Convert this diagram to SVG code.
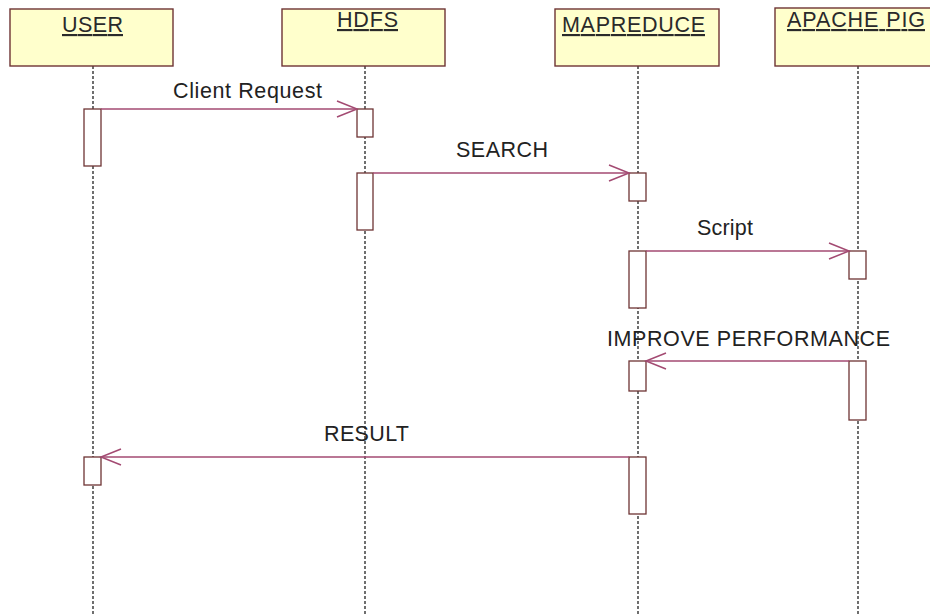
<svg xmlns="http://www.w3.org/2000/svg" width="930" height="614" viewBox="0 0 930 614">
  <style>
    .obj { fill: #ffffcc; stroke: #6e3434; stroke-width: 1.4; }
    .title { font-family: "Liberation Sans", Arial, sans-serif; font-size: 21.5px; fill: #2a2a2a; text-decoration: underline; }
    .life { stroke: #222; stroke-width: 1.3; stroke-dasharray: 3 2; fill: none; }
    .act { fill: #ffffff; stroke: #6e3434; stroke-width: 1.3; }
    .msg { stroke: #a34a72; stroke-width: 1.4; fill: none; }
    .head { stroke: #a34a72; stroke-width: 1.5; fill: none; }
    .label { font-family: "Liberation Sans", Arial, sans-serif; font-size: 21.5px; fill: #222; }
  </style>
  <rect width="930" height="614" fill="#ffffff"/>

  <!-- lifelines (drawn first so activation bars sit on top) -->
  <g id="lifelines">
    <line class="life" x1="93" y1="66" x2="93" y2="614"/>
    <line class="life" x1="365" y1="66" x2="365" y2="614"/>
    <line class="life" x1="638" y1="66" x2="638" y2="614"/>
    <line class="life" x1="858" y1="66" x2="858" y2="614"/>
  </g>

  <g id="user">
    <rect class="obj" x="10" y="9" width="163" height="57"/>
    <text class="title" x="62" y="32" textLength="61" lengthAdjust="spacing">USER</text>
    <rect class="act" x="84" y="109" width="17" height="57"/>
    <rect class="act" x="84" y="457" width="17" height="28"/>
  </g>

  <g id="hdfs">
    <rect class="obj" x="282" y="9" width="163" height="57"/>
    <text class="title" x="337" y="27" textLength="61" lengthAdjust="spacing">HDFS</text>
    <rect class="act" x="357" y="109" width="16" height="28"/>
    <rect class="act" x="357" y="173" width="16" height="57"/>
  </g>

  <g id="mapreduce">
    <rect class="obj" x="555" y="9" width="164" height="57"/>
    <text class="title" x="562" y="32" textLength="143" lengthAdjust="spacing">MAPREDUCE</text>
    <rect class="act" x="629" y="173" width="17" height="28"/>
    <rect class="act" x="629" y="251" width="17" height="57"/>
    <rect class="act" x="629" y="361" width="17" height="30"/>
    <rect class="act" x="629" y="457" width="17" height="57"/>
  </g>

  <g id="apache-pig">
    <rect class="obj" x="775" y="8" width="163" height="58"/>
    <text class="title" x="787" y="27" textLength="138" lengthAdjust="spacing">APACHE PIG</text>
    <rect class="act" x="849" y="251" width="17" height="28"/>
    <rect class="act" x="849" y="361" width="17" height="59"/>
  </g>

  <g id="messages">
    <!-- Client Request: USER -> HDFS -->
    <line class="msg" x1="101" y1="109" x2="357" y2="109"/>
    <polyline class="head" points="337,101 357,109 337,117"/>
    <text class="label" x="173" y="98" textLength="149" lengthAdjust="spacing">Client Request</text>

    <!-- SEARCH: HDFS -> MAPREDUCE -->
    <line class="msg" x1="373" y1="173" x2="629" y2="173"/>
    <polyline class="head" points="609,165 629,173 609,181"/>
    <text class="label" x="456" y="157" textLength="92" lengthAdjust="spacing">SEARCH</text>

    <!-- Script: MAPREDUCE -> APACHE PIG -->
    <line class="msg" x1="646" y1="251" x2="849" y2="251"/>
    <polyline class="head" points="829,243 849,251 829,259"/>
    <text class="label" x="697" y="235" textLength="56" lengthAdjust="spacing">Script</text>

    <!-- IMPROVE PERFORMANCE: APACHE PIG -> MAPREDUCE -->
    <line class="msg" x1="849" y1="361" x2="646" y2="361"/>
    <polyline class="head" points="666,353 646,361 666,369"/>
    <text class="label" x="607" y="346" textLength="283" lengthAdjust="spacing">IMPROVE PERFORMANCE</text>

    <!-- RESULT: MAPREDUCE -> USER -->
    <line class="msg" x1="629" y1="457" x2="101" y2="457"/>
    <polyline class="head" points="121,449 101,457 121,465"/>
    <text class="label" x="324" y="441" textLength="85" lengthAdjust="spacing">RESULT</text>
  </g>
</svg>
